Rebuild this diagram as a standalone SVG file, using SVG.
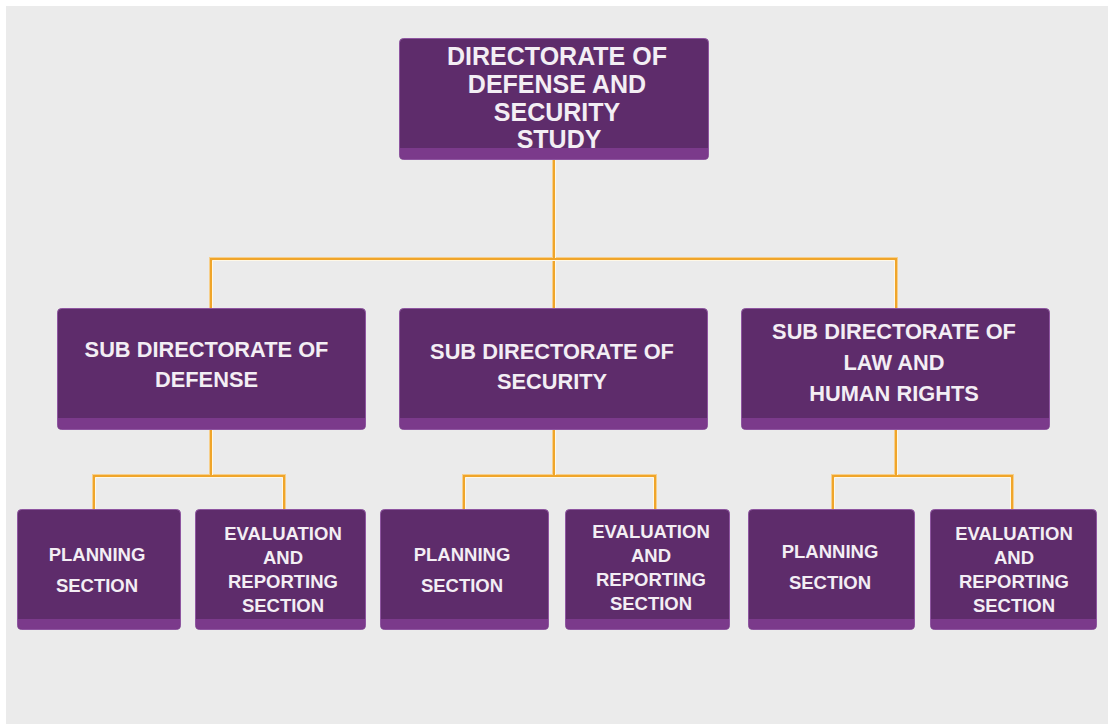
<svg xmlns="http://www.w3.org/2000/svg" width="1108" height="724" viewBox="0 0 1108 724">
<style>
.box{fill:#5e2c6b;stroke:#8e55a0;stroke-width:1}
.band{fill:#7b3a8b}
.t{font-family:"Liberation Sans",Arial,sans-serif;font-weight:bold;fill:#f3eef4;text-anchor:middle}
.t1{font-size:25px}
.t2{font-size:21.8px}
.t3{font-size:18.5px}
.gl{fill:none;stroke:#f6cf8c;stroke-width:4}
.co{fill:none;stroke:#f0a52a;stroke-width:2}
.hi{fill:none;stroke:#fff8e6;stroke-width:1}
</style>
<rect x="0" y="0" width="1108" height="724" fill="#ffffff"/>
<rect x="6" y="6" width="1102" height="718" fill="#ebebeb"/>
<g id="connectors">
<path class="gl" d="M554 159V308M211 308V259H896V308M211 429V476M94 509V476H284V509M554 429V476M464 509V476H655V509M896 429V476M833 509V476H1012V509"/>
<path class="co" d="M554 159V308M211 308V259H896V308"/>
<path class="co" d="M211 429V476M94 509V476H284V509"/>
<path class="co" d="M554 429V476M464 509V476H655V509"/>
<path class="co" d="M896 429V476M833 509V476H1012V509"/>
<path class="hi" d="M555.5 159V258M555.5 260V308M212.5 308V260.5H894.5V308"/>
<path class="hi" d="M212.5 429V475M95.5 509V477.5H282.5V509"/>
<path class="hi" d="M555.5 429V475M465.5 509V477.5H653.5V509"/>
<path class="hi" d="M897.5 429V475M834.5 509V477.5H1010.5V509"/>
</g>
<g id="top">
<rect class="box" x="399.5" y="38.5" width="309" height="121" rx="4"/>
<path class="band" d="M400 148H708V155A4 4 0 0 1 704 159H404A4 4 0 0 1 400 155Z"/>
<text class="t t1" x="557" y="65">DIRECTORATE OF</text>
<text class="t t1" x="557" y="93">DEFENSE AND</text>
<text class="t t1" x="557" y="121">SECURITY</text>
<text class="t t1" x="559" y="148">STUDY</text>
</g>
<g id="sub-defense">
<rect class="box" x="57.5" y="308.5" width="308" height="121" rx="4"/>
<path class="band" d="M58 418H365V425A4 4 0 0 1 361 429H62A4 4 0 0 1 58 425Z"/>
<text class="t t2" x="206.5" y="357">SUB DIRECTORATE OF</text>
<text class="t t2" x="206.5" y="387">DEFENSE</text>
</g>
<g id="sub-security">
<rect class="box" x="399.5" y="308.5" width="308" height="121" rx="4"/>
<path class="band" d="M400 418H707V425A4 4 0 0 1 703 429H404A4 4 0 0 1 400 425Z"/>
<text class="t t2" x="552" y="359">SUB DIRECTORATE OF</text>
<text class="t t2" x="552" y="389">SECURITY</text>
</g>
<g id="sub-law">
<rect class="box" x="741.5" y="308.5" width="308" height="121" rx="4"/>
<path class="band" d="M742 418H1049V425A4 4 0 0 1 1045 429H746A4 4 0 0 1 742 425Z"/>
<text class="t t2" x="894" y="339">SUB DIRECTORATE OF</text>
<text class="t t2" x="894" y="370">LAW AND</text>
<text class="t t2" x="894" y="401">HUMAN RIGHTS</text>
</g>
<g id="planning-1">
<rect class="box" x="17.5" y="509.5" width="163" height="120" rx="4"/>
<path class="band" d="M18 619H180V625A4 4 0 0 1 176 629H22A4 4 0 0 1 18 625Z"/>
<text class="t t3" x="97" y="561">PLANNING</text>
<text class="t t3" x="97" y="592">SECTION</text>
</g>
<g id="evaluation-1">
<rect class="box" x="195.5" y="509.5" width="170" height="120" rx="4"/>
<path class="band" d="M196 619H365V625A4 4 0 0 1 361 629H200A4 4 0 0 1 196 625Z"/>
<text class="t t3" x="283" y="540">EVALUATION</text>
<text class="t t3" x="283" y="564">AND</text>
<text class="t t3" x="283" y="588">REPORTING</text>
<text class="t t3" x="283" y="612">SECTION</text>
</g>
<g id="planning-2">
<rect class="box" x="380.5" y="509.5" width="168" height="120" rx="4"/>
<path class="band" d="M381 619H548V625A4 4 0 0 1 544 629H385A4 4 0 0 1 381 625Z"/>
<text class="t t3" x="462" y="561">PLANNING</text>
<text class="t t3" x="462" y="592">SECTION</text>
</g>
<g id="evaluation-2">
<rect class="box" x="565.5" y="509.5" width="164" height="120" rx="4"/>
<path class="band" d="M566 619H729V625A4 4 0 0 1 725 629H570A4 4 0 0 1 566 625Z"/>
<text class="t t3" x="651" y="538">EVALUATION</text>
<text class="t t3" x="651" y="562">AND</text>
<text class="t t3" x="651" y="586">REPORTING</text>
<text class="t t3" x="651" y="610">SECTION</text>
</g>
<g id="planning-3">
<rect class="box" x="748.5" y="509.5" width="166" height="120" rx="4"/>
<path class="band" d="M749 619H914V625A4 4 0 0 1 910 629H753A4 4 0 0 1 749 625Z"/>
<text class="t t3" x="830" y="558">PLANNING</text>
<text class="t t3" x="830" y="589">SECTION</text>
</g>
<g id="evaluation-3">
<rect class="box" x="930.5" y="509.5" width="166" height="120" rx="4"/>
<path class="band" d="M931 619H1096V625A4 4 0 0 1 1092 629H935A4 4 0 0 1 931 625Z"/>
<text class="t t3" x="1014" y="540">EVALUATION</text>
<text class="t t3" x="1014" y="564">AND</text>
<text class="t t3" x="1014" y="588">REPORTING</text>
<text class="t t3" x="1014" y="612">SECTION</text>
</g>
</svg>
